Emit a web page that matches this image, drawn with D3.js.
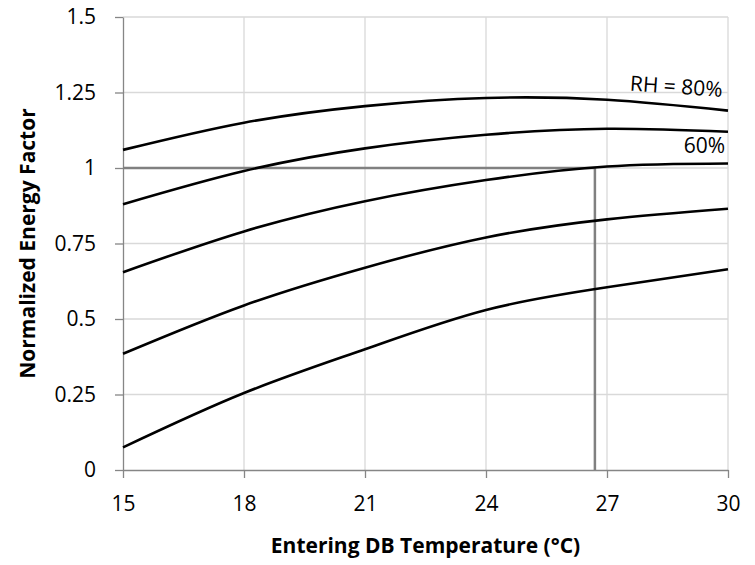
<!DOCTYPE html>
<html>
<head>
<meta charset="utf-8">
<title>Normalized Energy Factor</title>
<style>
  html, body { margin: 0; padding: 0; background: white; }
  svg { display: block; font-family: "Open Sans", sans-serif; }
  .grid line { stroke: #d9d9d9; stroke-width: 1.3; }
  .axis path, .axis line { stroke: #868686; stroke-width: 1.3; }
  .axis text { font-size: 21px; fill: #000; font-family: "Open Sans", sans-serif; }
  .title { font-size: 21px; font-weight: bold; }
</style>
</head>
<body>
<script src="https://cdn.jsdelivr.net/npm/d3@7/dist/d3.min.js"></script>
<script>
// temperatures (°C) where values were read
var temps = [15, 18, 21, 24, 27, 30];
// one curve per relative humidity, top curve is RH = 80%
var rh80 = [1.06, 1.15, 1.205, 1.232, 1.226, 1.19];
var rh60 = [0.88, 0.99, 1.065, 1.11, 1.13, 1.12];
var rh40 = [0.655, 0.79, 0.89, 0.96, 1.005, 1.015];
var rh20 = [0.385, 0.545, 0.67, 0.77, 0.83, 0.865];
var rh0  = [0.075, 0.255, 0.40, 0.53, 0.605, 0.665];
var curves = [rh80, rh60, rh40, rh20, rh0];
var xTicks = [15, 18, 21, 24, 27, 30];
var yTicks = [0, 0.25, 0.5, 0.75, 1, 1.25, 1.5];
var yTickLabels = ["0", "0.25", "0.5", "0.75", "1", "1.25", "1.5"];
// reading example : EF = 1 at 26.7 °C
var refX = 26.7, refY = 1;

var width = 755, height = 565;
// plot area (named m* so they do not clash with window.top)
var mLeft = 123, mRight = 728, mTop = 17, mBottom = 470;

var svg = d3.select("body").append("svg")
    .attr("width", width)
    .attr("height", height);

var x = d3.scaleLinear().domain([15, 30]).range([mLeft, mRight]);
var y = d3.scaleLinear().domain([0, 1.5]).range([mBottom, mTop]);

// grid
var grid = svg.append("g").attr("class", "grid");
grid.selectAll(".h").data(yTicks.slice(1)).enter().append("line")
    .attr("x1", mLeft).attr("x2", mRight)
    .attr("y1", function(d) { return y(d); })
    .attr("y2", function(d) { return y(d); });
grid.selectAll(".v").data(xTicks.slice(1)).enter().append("line")
    .attr("y1", mTop).attr("y2", mBottom)
    .attr("x1", function(d) { return x(d); })
    .attr("x2", function(d) { return x(d); });

// axes
svg.append("g").attr("class", "axis")
    .attr("transform", "translate(0," + mBottom + ")")
    .call(d3.axisBottom(x).tickValues(xTicks).tickSize(8).tickSizeOuter(0).tickPadding(18));

svg.append("g").attr("class", "axis")
    .attr("transform", "translate(" + mLeft + ",0)")
    .call(d3.axisLeft(y).tickValues(yTicks).tickSize(8).tickSizeOuter(0).tickPadding(19)
        .tickFormat(function(d, i) { return yTickLabels[i]; }));

// reference lines
svg.append("path")
    .attr("d", "M" + x(15) + "," + y(refY) + "H" + x(refX) + "V" + y(0))
    .attr("fill", "none")
    .attr("stroke", "#808080")
    .attr("stroke-width", 2.5);

// curves
var line = d3.line()
    .x(function(d, i) { return x(temps[i]); })
    .y(function(d) { return y(d); })
    .curve(d3.curveNatural);

svg.selectAll(".curve").data(curves).enter().append("path")
    .attr("class", "curve")
    .attr("d", line)
    .attr("fill", "none")
    .attr("stroke", "#000")
    .attr("stroke-width", 2.6);

// curve labels
svg.append("text")
    .attr("transform", "translate(722,97) rotate(4)")
    .attr("text-anchor", "end")
    .style("font-size", "21px")
    .text("RH = 80%");
svg.append("text")
    .attr("x", 725).attr("y", 153)
    .attr("text-anchor", "end")
    .style("font-size", "21px")
    .text("60%");

// axis titles
svg.append("text").attr("class", "title")
    .attr("x", (mLeft + mRight) / 2).attr("y", 553)
    .attr("text-anchor", "middle")
    .text("Entering DB Temperature (°C)");
svg.append("text").attr("class", "title")
    .attr("transform", "translate(35," + ((mTop + mBottom) / 2) + ") rotate(-90)")
    .attr("text-anchor", "middle")
    .text("Normalized Energy Factor");
</script>
</body>
</html>
